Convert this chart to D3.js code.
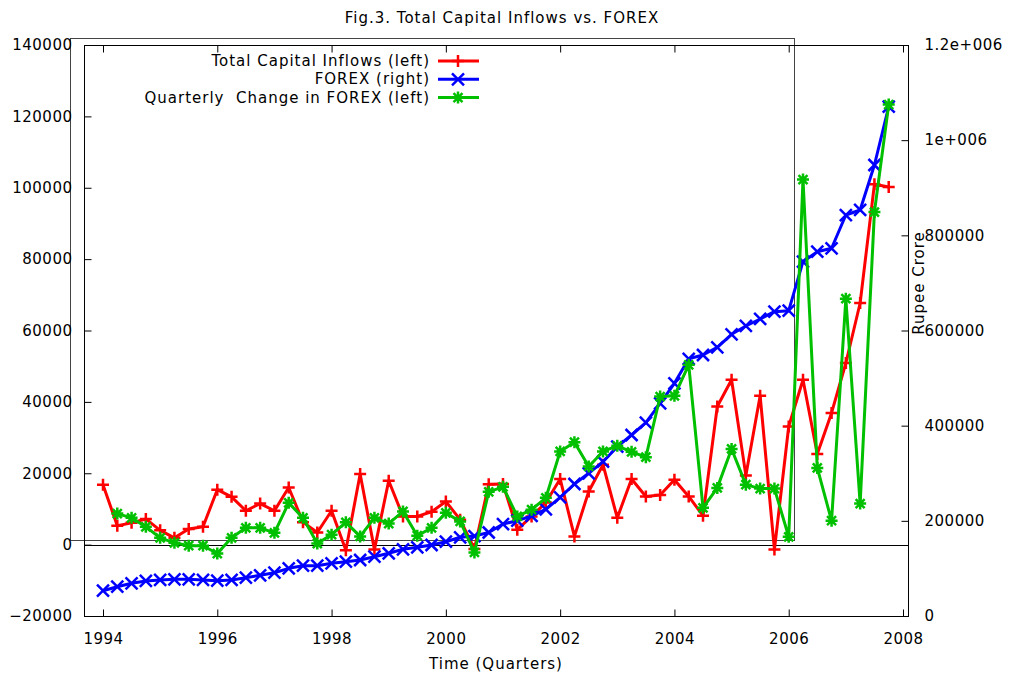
<!DOCTYPE html>
<html>
<head>
<meta charset="utf-8">
<script src="https://cdn.jsdelivr.net/npm/d3@7"></script>
<style>
  body { margin: 0; background: #fff; }
  text { font-family: "DejaVu Sans", Verdana, sans-serif; font-size: 15px; letter-spacing: 1px; fill: #000; white-space: pre; }
  .tick text { letter-spacing: 0.5px; }
</style>
</head>
<body>
<div id="chart"></div>
<script>
var svgWidth = 1010;
var svgHeight = 673;

// quarters, 1994 Q1 .. 2007 Q4
var quarters = [1994, 1994.25, 1994.5, 1994.75, 1995, 1995.25, 1995.5, 1995.75,
  1996, 1996.25, 1996.5, 1996.75, 1997, 1997.25, 1997.5, 1997.75,
  1998, 1998.25, 1998.5, 1998.75, 1999, 1999.25, 1999.5, 1999.75,
  2000, 2000.25, 2000.5, 2000.75, 2001, 2001.25, 2001.5, 2001.75,
  2002, 2002.25, 2002.5, 2002.75, 2003, 2003.25, 2003.5, 2003.75,
  2004, 2004.25, 2004.5, 2004.75, 2005, 2005.25, 2005.5, 2005.75,
  2006, 2006.25, 2006.5, 2006.75, 2007, 2007.25, 2007.5, 2007.75];

var capitalInflows = [16800, 5300, 6100, 7200, 4000, 1900, 4400, 5000,
  15400, 13400, 9500, 11500, 9500, 16000, 6300, 3400,
  9500, -1600, 19800, -1400, 17900, 7900, 7900, 9200,
  12100, 7000, -1200, 16900, 17000, 4200, 7900, 11800,
  18400, 2300, 14900, 22400, 7500, 18400, 13500, 13900,
  18200, 13500, 8100, 38700, 46200, 19400, 41700, -1400,
  33100, 46200, 25400, 36900, 50900, 67700, 101000, 100200];

var forex = [53200, 61600, 68700, 73600, 75700, 77100, 77100, 75700,
  74200, 75700, 80500, 85500, 91000, 100200, 105700, 105700,
  110700, 114100, 117700, 124600, 131800, 140200, 144400, 149200,
  156100, 165400, 168000, 175500, 193300, 200300, 210200, 224200,
  249500, 277400, 299900, 324300, 355800, 380400, 406200, 447000,
  489000, 540500, 548500, 564700, 592000, 609500, 624200, 639500,
  641600, 744600, 765600, 772800, 842700, 853300, 947800, 1070300];

var forexChange = [null, 8700, 7500, 5000, 1900, 500, -300, -300,
  -2500, 1900, 4700, 4700, 3300, 11700, 7500, 300,
  2800, 6250, 2300, 7500, 5900, 9300, 2500, 4700,
  8900, 6500, -2200, 14800, 16200, 7900, 9800, 13100,
  26100, 28700, 21900, 26100, 27700, 26000, 24500, 41500,
  41700, 50400, 10300, 15900, 26800, 16800, 15700, 15700,
  2200, 102300, 21500, 6700, 68900, 11500, 93200, 123300];

var xTicks = [1994, 1996, 1998, 2000, 2002, 2004, 2006, 2008];
var yTicks = [-20000, 0, 20000, 40000, 60000, 80000, 100000, 120000, 140000];
var y2Ticks = [0, 200000, 400000, 600000, 800000, 1000000, 1200000];
var y2Labels = ["0", "200000", "400000", "600000", "800000", "1e+006", "1.2e+006"];

var plot = { left: 84, right: 908, top: 45, bottom: 616 };

var svg = d3.select("#chart")
  .append("svg")
  .attr("width", svgWidth)
  .attr("height", svgHeight);

var xScale = d3.scaleLinear().domain([1994, 2008]).range([103, 903]);
var yScale = d3.scaleLinear().domain([-20000, 140000]).range([plot.bottom, plot.top]);
var y2Scale = d3.scaleLinear().domain([0, 1200000]).range([plot.bottom, plot.top]);

// odd outer frame left over from the original plot
svg.append("rect")
  .attr("x", 70.5).attr("y", 38.5)
  .attr("width", 794 - 70).attr("height", 540 - 38)
  .attr("fill", "none").attr("stroke", "#444").attr("stroke-width", 1);

// main frame
svg.append("rect")
  .attr("x", plot.left + 0.5).attr("y", plot.top + 0.5)
  .attr("width", plot.right - plot.left).attr("height", plot.bottom - plot.top)
  .attr("fill", "none").attr("stroke", "#000").attr("stroke-width", 1);

// zero axis
svg.append("line")
  .attr("x1", plot.left).attr("x2", plot.right)
  .attr("y1", Math.round(yScale(0)) + 0.5).attr("y2", Math.round(yScale(0)) + 0.5)
  .attr("stroke", "#000");

// axes (gnuplot style: inward ticks)
var tick = 7;
svg.append("g")
  .attr("transform", `translate(0, ${plot.bottom + 0.5})`)
  .call(d3.axisBottom(xScale).tickValues(xTicks).tickSizeInner(-tick).tickSizeOuter(0).tickPadding(17).tickFormat(d3.format("d")))
  .call(g => g.select(".domain").remove());

svg.append("g")
  .attr("transform", `translate(0, ${plot.top + 0.5})`)
  .call(d3.axisTop(xScale).tickValues(xTicks).tickSizeInner(-tick).tickSizeOuter(0).tickFormat(""))
  .call(g => g.select(".domain").remove());

svg.append("g")
  .attr("transform", `translate(${plot.left + 0.5}, 0)`)
  .call(d3.axisLeft(yScale).tickValues(yTicks).tickSizeInner(-tick).tickSizeOuter(0).tickPadding(12).tickFormat(d3.format("d")))
  .call(g => g.select(".domain").remove());

svg.append("g")
  .attr("transform", `translate(${plot.right + 0.5}, 0)`)
  .call(d3.axisRight(y2Scale).tickValues(y2Ticks).tickSizeInner(-tick).tickSizeOuter(0).tickPadding(16)
    .tickFormat((d, i) => y2Labels[i]))
  .call(g => g.select(".domain").remove());

svg.selectAll(".tick text")
  .attr("font-family", "DejaVu Sans, Verdana, sans-serif")
  .attr("font-size", 15)
  .attr("fill", "#000");
svg.selectAll(".tick line").attr("stroke", "#000");

// markers
function plusPath(s) { return `M${-s},0H${s}M0,${-s}V${s}`; }
function crossPath(s) { return `M${-s},${-s}L${s},${s}M${-s},${s}L${s},${-s}`; }
function starPath(s) { return plusPath(s) + crossPath(s * 0.75); }

var series = [
  { name: "Total Capital Inflows (left)", values: capitalInflows, color: "#ff0000", scale: yScale, marker: plusPath },
  { name: "FOREX (right)", values: forex, color: "#0000ff", scale: y2Scale, marker: crossPath },
  { name: "Quarterly  Change in FOREX (left)", values: forexChange, color: "#00c000", scale: yScale, marker: starPath }
];

series.forEach(function(s) {
  var pts = quarters.map((q, i) => ({ q: q, v: s.values[i] })).filter(d => d.v !== null);
  var line = d3.line().x(d => xScale(d.q)).y(d => s.scale(d.v));
  svg.append("path")
    .datum(pts)
    .attr("d", line)
    .attr("fill", "none")
    .attr("stroke", s.color)
    .attr("stroke-width", 3)
    .attr("stroke-linejoin", "round");
  svg.append("g").selectAll("path")
    .data(pts)
    .enter()
    .append("path")
    .attr("transform", d => `translate(${xScale(d.q)}, ${s.scale(d.v)})`)
    .attr("d", s.marker(6))
    .attr("stroke", s.color)
    .attr("stroke-width", 2.5)
    .attr("fill", "none");
});

// legend
var legend = svg.append("g");
series.forEach(function(s, i) {
  var ly = 61 + i * 18.3;
  legend.append("text")
    .attr("x", 430).attr("y", ly + 5)
    .attr("text-anchor", "end")
    .text(s.name);
  legend.append("line")
    .attr("x1", 438).attr("x2", 479)
    .attr("y1", ly).attr("y2", ly)
    .attr("stroke", s.color).attr("stroke-width", 3);
  legend.append("path")
    .attr("transform", `translate(458, ${ly})`)
    .attr("d", s.marker(6))
    .attr("stroke", s.color).attr("stroke-width", 2.5).attr("fill", "none");
});

// title and axis labels
svg.append("text")
  .attr("x", 502).attr("y", 23)
  .attr("text-anchor", "middle")
  .text("Fig.3. Total Capital Inflows vs. FOREX");

svg.append("text")
  .attr("x", 496).attr("y", 669)
  .attr("text-anchor", "middle")
  .text("Time (Quarters)");

svg.append("text")
  .attr("transform", "translate(924, 283) rotate(-90)")
  .attr("text-anchor", "middle")
  .text("Rupee Crore");
</script>
</body>
</html>
